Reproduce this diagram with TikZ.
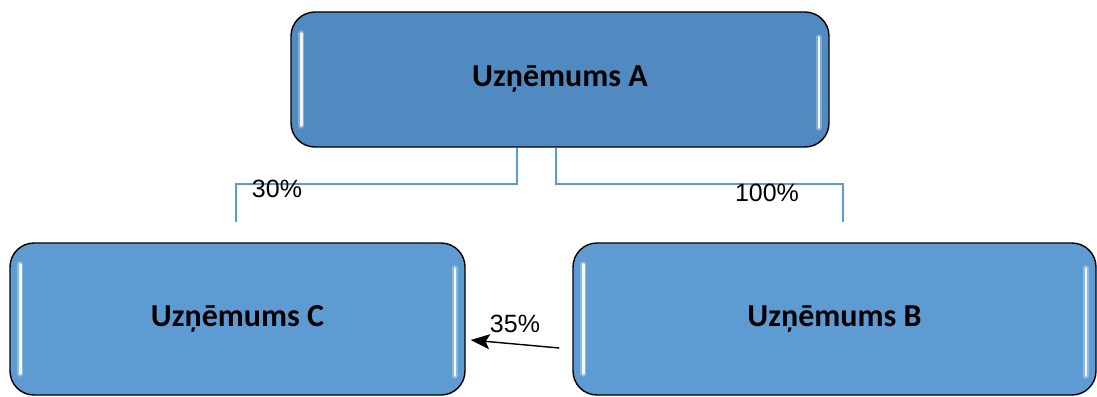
\documentclass[tikz,border=0pt]{standalone}
\usepackage{fontspec}
\setmainfont{Carlito}
\newfontfamily\pctfont{Liberation Sans}
\usetikzlibrary{positioning, arrows.meta, calc}
\definecolor{topblue}{RGB}{80,138,192}
\definecolor{subblue}{RGB}{94,155,211}
\definecolor{linkblue}{RGB}{91,155,213}

\begin{document}
\begin{tikzpicture}[x=1pt,y=-1pt,
  firm/.style={draw=black, line width=1.4pt, rounded corners=24pt, inner sep=0pt,
    font=\fontsize{32}{37}\selectfont\bfseries},
  link/.style={draw=linkblue, line width=1.8pt},
  pct/.style={font=\pctfont\fontsize{25}{29}\selectfont, inner sep=0pt},
  halo/.style={white, line width=6pt, line cap=round, opacity=0.3},
  shine/.style={white, line width=2.4pt, line cap=round, opacity=0.9}]
\useasboundingbox (0,0) rectangle (1097,396);
\node[firm, fill=topblue, minimum width=538pt, minimum height=135pt] (A) at (560,79.5) {Uzņēmums A};
\node[firm, fill=subblue, minimum width=455pt, minimum height=152pt] (C) at (237.5,319) {Uzņēmums C};
\node[firm, fill=subblue, minimum width=523pt, minimum height=152pt] (B) at (834.5,319) {Uzņēmums B};
% glossy edges
\foreach \n in {A,B,C} {
  \draw[halo] ($(\n.north west)+(11,22)$) -- ($(\n.south west)+(11,-22)$);
  \draw[halo] ($(\n.north east)+(-11,26)$) -- ($(\n.south east)+(-11,-20)$);
  \draw[shine] ($(\n.north west)+(11,22)$) -- ($(\n.south west)+(11,-22)$);
  \draw[shine] ($(\n.north east)+(-11,26)$) -- ($(\n.south east)+(-11,-20)$);
}
% ownership links
\coordinate (cTop) at (236,222);
\coordinate (bTop) at (843,222);
\draw[link] ($(A.south)+(-43,0)$) -- ++(0,36) -| (cTop);
\draw[link] ($(A.south)+(-4,0)$) -- ++(0,36) -| (bTop);
\coordinate (bOut) at ($(B.west)+(-13,29)$);
\draw[line width=1.4pt, -{Stealth[length=19pt, width=15pt, inset=4pt]}] (bOut) -- ($(C.east)+(5,21)$);
\node[pct] (p30) at (277,189) {30\%};
\node[pct] (p100) at (767,193) {100\%};
\node[pct] (p35) at (515,324) {35\%};
\end{tikzpicture}
\end{document}
